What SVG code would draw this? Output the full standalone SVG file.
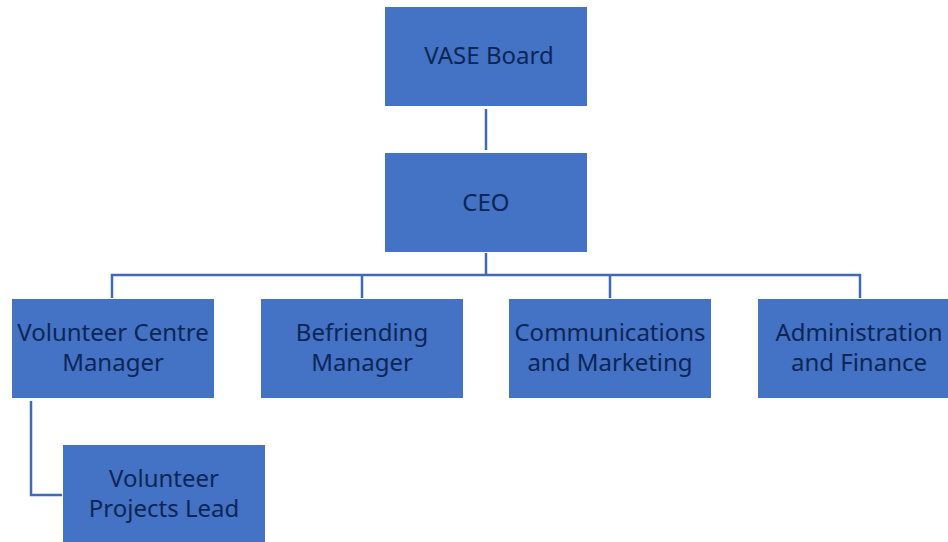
<svg xmlns="http://www.w3.org/2000/svg" width="948" height="542" viewBox="0 0 948 542">
<style>
.box{fill:#4472C4;}
.t{font-family:"Noto Sans","Liberation Sans",sans-serif;font-size:24px;fill:#0C2656;text-anchor:middle;}
.c{fill:none;stroke:#4269B8;stroke-width:2.5;}
</style>
<rect width="948" height="542" fill="#fff"/>
<g id="connectors">
<path class="c" d="M486 109V150"/>
<path class="c" d="M486 253V275M112 298V275H860V298M362 275V298M610 275V298"/>
<path class="c" d="M31 401V495H62"/>
</g>
<g id="vase-board"><rect class="box" x="385" y="7" width="202" height="99"/><text class="t" x="489" y="64">VASE Board</text></g>
<g id="ceo"><rect class="box" x="385" y="153" width="202" height="99"/><text class="t" x="486" y="211">CEO</text></g>
<g id="vcm"><rect class="box" x="12" y="299" width="202" height="99"/><text class="t" x="113" y="341">Volunteer Centre</text><text class="t" x="113" y="371">Manager</text></g>
<g id="befriending"><rect class="box" x="261" y="299" width="202" height="99"/><text class="t" x="362" y="341">Befriending</text><text class="t" x="362" y="371">Manager</text></g>
<g id="comms"><rect class="box" x="509" y="299" width="202" height="99"/><text class="t" x="610" y="341">Communications</text><text class="t" x="610" y="371">and Marketing</text></g>
<g id="admin"><rect class="box" x="758" y="299" width="190" height="99"/><text class="t" x="859" y="341">Administration</text><text class="t" x="859" y="371">and Finance</text></g>
<g id="vpl"><rect class="box" x="63" y="445" width="202" height="97"/><text class="t" x="164" y="487">Volunteer</text><text class="t" x="164" y="517">Projects Lead</text></g>
</svg>
